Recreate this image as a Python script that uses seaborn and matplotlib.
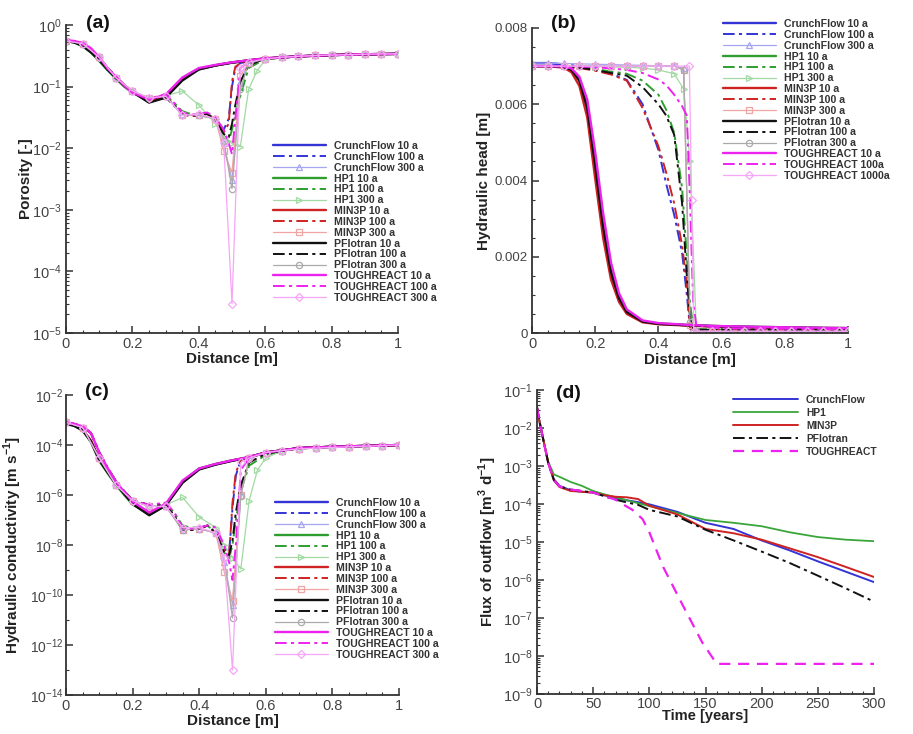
import numpy as np
import matplotlib
matplotlib.use('Agg')
import matplotlib.pyplot as plt
import seaborn as sns
from matplotlib.ticker import FixedLocator, FuncFormatter, MultipleLocator, LogLocator, NullFormatter

sns.set_theme(style='ticks')
plt.rcParams['font.family'] = ['Liberation Sans', 'DejaVu Sans']
plt.rcParams['mathtext.fontset'] = 'custom'
plt.rcParams['mathtext.rm'] = 'Liberation Sans'
plt.rcParams['mathtext.bf'] = 'Liberation Sans:bold'

# ---------------- (a) porosity ----------------
xa10 = [0, 0.025, 0.05, 0.075, 0.1, 0.125, 0.15, 0.175, 0.2, 0.25, 0.3, 0.35, 0.4, 0.45, 0.5, 0.55, 0.6, 0.7, 0.8, 0.9, 1.0]
por_cf10 = [0.55, 0.53, 0.46, 0.37, 0.27, 0.19, 0.14, 0.105, 0.082, 0.056, 0.068, 0.13, 0.19, 0.22, 0.245, 0.265, 0.285, 0.31, 0.325, 0.335, 0.34]
por_hp1_10 = [0.55, 0.52, 0.45, 0.36, 0.26, 0.185, 0.135, 0.1, 0.08, 0.058, 0.072, 0.135, 0.195, 0.222, 0.247, 0.267, 0.287, 0.31, 0.325, 0.335, 0.34]
por_min3p10 = [0.55, 0.53, 0.47, 0.38, 0.28, 0.195, 0.142, 0.106, 0.083, 0.057, 0.07, 0.132, 0.192, 0.221, 0.246, 0.266, 0.286, 0.31, 0.325, 0.335, 0.34]
por_pf10 = [0.55, 0.52, 0.46, 0.36, 0.27, 0.19, 0.14, 0.105, 0.082, 0.055, 0.066, 0.125, 0.19, 0.22, 0.245, 0.265, 0.285, 0.31, 0.325, 0.335, 0.34]
por_tr10 = [0.57, 0.55, 0.51, 0.42, 0.3, 0.2, 0.145, 0.105, 0.08, 0.062, 0.074, 0.14, 0.2, 0.225, 0.248, 0.268, 0.288, 0.31, 0.325, 0.335, 0.34]

xa100 = [0, 0.025, 0.05, 0.075, 0.1, 0.125, 0.15, 0.175, 0.2, 0.25, 0.3, 0.325, 0.35, 0.375, 0.4, 0.425, 0.45, 0.475, 0.49, 0.5, 0.51, 0.525, 0.55, 0.6, 0.7, 0.8, 0.9, 1.0]
por_cf100 = [0.56, 0.54, 0.48, 0.4, 0.29, 0.2, 0.145, 0.105, 0.08, 0.064, 0.068, 0.05, 0.036, 0.034, 0.034, 0.036, 0.03, 0.02, 0.03, 0.1, 0.2, 0.24, 0.26, 0.285, 0.31, 0.325, 0.335, 0.34]
por_hp1_100 = [0.56, 0.54, 0.48, 0.4, 0.29, 0.2, 0.145, 0.105, 0.08, 0.064, 0.07, 0.055, 0.04, 0.036, 0.035, 0.036, 0.028, 0.015, 0.013, 0.02, 0.035, 0.07, 0.2, 0.28, 0.31, 0.325, 0.335, 0.34]
por_min3p100 = [0.56, 0.54, 0.48, 0.4, 0.29, 0.2, 0.145, 0.105, 0.08, 0.064, 0.068, 0.05, 0.035, 0.033, 0.034, 0.036, 0.03, 0.018, 0.025, 0.12, 0.21, 0.24, 0.26, 0.285, 0.31, 0.325, 0.335, 0.34]
por_pf100 = [0.56, 0.54, 0.48, 0.4, 0.29, 0.2, 0.145, 0.105, 0.08, 0.064, 0.068, 0.05, 0.036, 0.034, 0.034, 0.036, 0.029, 0.017, 0.015, 0.025, 0.05, 0.12, 0.22, 0.285, 0.31, 0.325, 0.335, 0.34]
por_tr100 = [0.56, 0.54, 0.48, 0.4, 0.29, 0.2, 0.145, 0.105, 0.08, 0.064, 0.075, 0.055, 0.038, 0.035, 0.036, 0.038, 0.032, 0.02, 0.012, 0.008, 0.03, 0.2, 0.25, 0.285, 0.31, 0.325, 0.335, 0.34]

xa300 = [0, 0.05, 0.1, 0.15, 0.2, 0.25, 0.3, 0.35, 0.4, 0.45, 0.475, 0.5, 0.525, 0.55, 0.6, 0.65, 0.7, 0.75, 0.8, 0.85, 0.9, 0.95, 1.0]
xa_hp300 = [0, 0.05, 0.1, 0.15, 0.2, 0.25, 0.3, 0.35, 0.4, 0.45, 0.475, 0.5, 0.525, 0.55, 0.575, 0.6, 0.65, 0.7, 0.75, 0.8, 0.85, 0.9, 0.95, 1.0]
por_cf300 = [0.55, 0.5, 0.3, 0.14, 0.085, 0.065, 0.07, 0.036, 0.034, 0.03, 0.012, 0.003, 0.12, 0.24, 0.28, 0.3, 0.31, 0.32, 0.325, 0.33, 0.335, 0.34, 0.34]
por_hp1_300 = [0.55, 0.5, 0.3, 0.14, 0.085, 0.065, 0.07, 0.085, 0.05, 0.025, 0.015, 0.012, 0.0105, 0.09, 0.18, 0.27, 0.3, 0.31, 0.32, 0.325, 0.33, 0.335, 0.34, 0.34]
por_min3p300 = [0.55, 0.5, 0.3, 0.14, 0.085, 0.065, 0.07, 0.035, 0.034, 0.03, 0.009, 0.004, 0.15, 0.24, 0.28, 0.3, 0.31, 0.32, 0.325, 0.33, 0.335, 0.34, 0.34]
por_pf300 = [0.55, 0.5, 0.3, 0.14, 0.085, 0.065, 0.07, 0.035, 0.034, 0.03, 0.013, 0.0022, 0.09, 0.24, 0.28, 0.3, 0.31, 0.32, 0.325, 0.33, 0.335, 0.34, 0.34]
por_tr300 = [0.55, 0.5, 0.3, 0.14, 0.085, 0.065, 0.07, 0.034, 0.036, 0.03, 0.012, 3e-5, 0.2, 0.25, 0.28, 0.3, 0.31, 0.32, 0.325, 0.33, 0.335, 0.34, 0.34]

# ---------------- (b) hydraulic head ----------------
xb10 = [0, 0.05, 0.1, 0.125, 0.15, 0.175, 0.2, 0.225, 0.25, 0.275, 0.3, 0.35, 0.4, 0.5, 0.6, 0.8, 1.0]
h_cf10 = [0.00708, 0.00708, 0.00704, 0.00693, 0.00663, 0.00588, 0.00435, 0.00275, 0.00157, 0.00090, 0.00054, 0.00030, 0.00024, 0.00020, 0.00017, 0.00014, 0.00012]
h_hp1_10 = [0.00700, 0.00700, 0.00698, 0.00692, 0.00668, 0.00602, 0.00460, 0.00300, 0.00172, 0.00098, 0.00058, 0.00031, 0.00025, 0.00021, 0.00018, 0.00015, 0.00013]
h_min3p10 = [0.00700, 0.00700, 0.00696, 0.00684, 0.00648, 0.00565, 0.00405, 0.00250, 0.00140, 0.00082, 0.00050, 0.00028, 0.00023, 0.00019, 0.00016, 0.00013, 0.00011]
h_pf10 = [0.00700, 0.00700, 0.00698, 0.00690, 0.00662, 0.00590, 0.00440, 0.00280, 0.00160, 0.00092, 0.00055, 0.00030, 0.00024, 0.00020, 0.00017, 0.00014, 0.00012]
h_tr10 = [0.00700, 0.00700, 0.00699, 0.00694, 0.00672, 0.00612, 0.00475, 0.00315, 0.00185, 0.00105, 0.00062, 0.00033, 0.00026, 0.00021, 0.00018, 0.00015, 0.00013]

xb100 = [0, 0.05, 0.1, 0.15, 0.2, 0.25, 0.3, 0.35, 0.4, 0.425, 0.45, 0.475, 0.49, 0.5, 0.51, 0.52, 0.6, 0.8, 1.0]
h_cf100 = [0.00708, 0.00708, 0.00705, 0.00700, 0.00690, 0.00680, 0.00664, 0.00600, 0.00480, 0.00390, 0.00310, 0.00210, 0.00100, 0.00012, 0.00009, 0.00008, 0.00008, 0.00007, 0.00007]
h_hp1_100 = [0.00700, 0.00700, 0.00699, 0.00697, 0.00692, 0.00686, 0.00680, 0.00662, 0.00625, 0.00585, 0.00525, 0.00380, 0.00200, 0.00080, 0.00015, 0.00010, 0.00009, 0.00008, 0.00008]
h_min3p100 = [0.00700, 0.00700, 0.00698, 0.00695, 0.00688, 0.00678, 0.00662, 0.00590, 0.00490, 0.00420, 0.00340, 0.00230, 0.00130, 0.00012, 0.00009, 0.00008, 0.00008, 0.00007, 0.00007]
h_pf100 = [0.00700, 0.00700, 0.00698, 0.00696, 0.00690, 0.00682, 0.00675, 0.00645, 0.00600, 0.00570, 0.00520, 0.00340, 0.00150, 0.00040, 0.00010, 0.00009, 0.00008, 0.00008, 0.00007]
h_tr100 = [0.00700, 0.00700, 0.00700, 0.00699, 0.00697, 0.00694, 0.00690, 0.00682, 0.00665, 0.00650, 0.00625, 0.00595, 0.00570, 0.00350, 0.00080, 0.00020, 0.00012, 0.00011, 0.00010]

xb300 = [0, 0.05, 0.1, 0.15, 0.2, 0.25, 0.3, 0.35, 0.4, 0.45, 0.48, 0.5, 0.52, 0.57, 0.62, 0.67, 0.72, 0.77, 0.82, 0.87, 0.92, 0.97, 1.0]
xb_tr1000 = [0, 0.05, 0.1, 0.15, 0.2, 0.25, 0.3, 0.35, 0.4, 0.45, 0.498, 0.505, 0.512, 0.57, 0.62, 0.67, 0.72, 0.77, 0.82, 0.87, 0.92, 0.97, 1.0]
h_cf300 = [0.00708, 0.00708, 0.00707, 0.00706, 0.00705, 0.00704, 0.00703, 0.00702, 0.00701, 0.00700, 0.00695, 0.00030, 0.00005, 0.00005, 0.00005, 0.00005, 0.00005, 0.00005, 0.00005, 0.00005, 0.00005, 0.00005, 0.00005]
h_hp1_300 = [0.00700, 0.00700, 0.00700, 0.00700, 0.00699, 0.00698, 0.00697, 0.00695, 0.00690, 0.00680, 0.00640, 0.00450, 0.00008, 0.00005, 0.00005, 0.00005, 0.00005, 0.00005, 0.00005, 0.00005, 0.00005, 0.00005, 0.00005]
h_min3p300 = [0.00700, 0.00700, 0.00700, 0.00700, 0.00700, 0.00700, 0.00700, 0.00700, 0.00700, 0.00700, 0.00690, 0.00020, 0.00005, 0.00005, 0.00005, 0.00005, 0.00005, 0.00005, 0.00005, 0.00005, 0.00005, 0.00005, 0.00005]
h_pf300 = [0.00700, 0.00700, 0.00700, 0.00700, 0.00700, 0.00700, 0.00700, 0.00700, 0.00700, 0.00700, 0.00690, 0.00030, 0.00004, 0.00004, 0.00004, 0.00004, 0.00004, 0.00004, 0.00004, 0.00004, 0.00004, 0.00004, 0.00004]
h_tr1000 = [0.00700, 0.00700, 0.00700, 0.00700, 0.00700, 0.00700, 0.00700, 0.00700, 0.00700, 0.00700, 0.00700, 0.00350, 0.00005, 0.00005, 0.00005, 0.00005, 0.00005, 0.00005, 0.00005, 0.00005, 0.00005, 0.00005, 0.00005]

# ---------------- (c) hydraulic conductivity ----------------
xc10 = [0, 0.025, 0.05, 0.075, 0.1, 0.125, 0.15, 0.175, 0.2, 0.25, 0.3, 0.35, 0.4, 0.45, 0.5, 0.55, 0.6, 0.7, 0.8, 0.9, 1.0]
k_cf10 = [7.5e-4, 6e-4, 4e-4, 1.4e-4, 2.5e-5, 8e-6, 2.8e-6, 1.1e-6, 4.5e-7, 1.6e-7, 4e-7, 3.2e-6, 1.1e-5, 1.7e-5, 2.4e-5, 3.2e-5, 5e-5, 7.5e-5, 8.5e-5, 9.2e-5, 1e-4]
k_hp1_10 = [7.5e-4, 6e-4, 3.8e-4, 1.3e-4, 2.3e-5, 7.5e-6, 2.6e-6, 1e-6, 4.2e-7, 1.7e-7, 4.3e-7, 3.5e-6, 1.15e-5, 1.75e-5, 2.45e-5, 3.3e-5, 5e-5, 7.5e-5, 8.5e-5, 9.2e-5, 1e-4]
k_min3p10 = [7.5e-4, 6.2e-4, 4.2e-4, 1.5e-4, 2.7e-5, 8.5e-6, 3e-6, 1.2e-6, 4.8e-7, 1.8e-7, 4.1e-7, 3.3e-6, 1.1e-5, 1.7e-5, 2.4e-5, 3.2e-5, 5e-5, 7.5e-5, 8.5e-5, 9.2e-5, 1e-4]
k_pf10 = [7e-4, 5.8e-4, 3.8e-4, 1.4e-4, 2.5e-5, 8e-6, 2.7e-6, 1.1e-6, 4.4e-7, 1.55e-7, 3.8e-7, 3.1e-6, 1.05e-5, 1.65e-5, 2.35e-5, 3.2e-5, 5e-5, 7.5e-5, 8.5e-5, 9.2e-5, 1e-4]
k_tr10 = [8e-4, 7e-4, 5.5e-4, 3e-4, 5e-5, 1.2e-5, 3.5e-6, 1.3e-6, 5.5e-7, 2e-7, 4.5e-7, 3.8e-6, 1.15e-5, 1.75e-5, 2.45e-5, 3.3e-5, 5e-5, 7.5e-5, 8.5e-5, 9.2e-5, 1e-4]

xc100 = [0, 0.025, 0.05, 0.075, 0.1, 0.125, 0.15, 0.175, 0.2, 0.25, 0.3, 0.325, 0.35, 0.375, 0.4, 0.425, 0.45, 0.475, 0.49, 0.5, 0.51, 0.525, 0.55, 0.6, 0.7, 0.8, 0.9, 1.0]
k_cf100 = [7.5e-4, 7e-4, 5.5e-4, 3e-4, 5e-5, 1.2e-5, 3.5e-6, 1.4e-6, 6e-7, 4e-7, 4e-7, 1.5e-7, 4e-8, 4e-8, 4.5e-8, 6e-8, 3e-8, 7e-9, 5e-9, 3e-7, 6e-6, 2.5e-5, 3.5e-5, 5e-5, 7.5e-5, 8.5e-5, 9.2e-5, 1e-4]
k_hp1_100 = [7.5e-4, 7e-4, 5.5e-4, 3e-4, 5e-5, 1.2e-5, 3.5e-6, 1.4e-6, 6e-7, 4e-7, 4.5e-7, 2e-7, 6e-8, 5e-8, 5e-8, 6e-8, 3e-8, 5e-9, 3e-9, 1e-8, 1e-7, 1.5e-6, 1.5e-5, 4e-5, 7.5e-5, 8.5e-5, 9.2e-5, 1e-4]
k_min3p100 = [7.5e-4, 7e-4, 5.5e-4, 3e-4, 5e-5, 1.2e-5, 3.5e-6, 1.4e-6, 6e-7, 4e-7, 4e-7, 1.5e-7, 4e-8, 4e-8, 4.5e-8, 6e-8, 3e-8, 6e-9, 4e-9, 5e-7, 8e-6, 2.5e-5, 3.5e-5, 5e-5, 7.5e-5, 8.5e-5, 9.2e-5, 1e-4]
k_pf100 = [7e-4, 6.5e-4, 5.5e-4, 3e-4, 5e-5, 1.2e-5, 3.5e-6, 1.4e-6, 6e-7, 4e-7, 4e-7, 1.5e-7, 4e-8, 4e-8, 4.5e-8, 6e-8, 3e-8, 5e-9, 4e-9, 1.5e-8, 2e-7, 2.5e-6, 2e-5, 4.5e-5, 7.5e-5, 8.5e-5, 9.2e-5, 1e-4]
k_tr100 = [8e-4, 7e-4, 5.5e-4, 3e-4, 5e-5, 1.2e-5, 3.5e-6, 1.4e-6, 6e-7, 4e-7, 5e-7, 2e-7, 5e-8, 4.5e-8, 5e-8, 6e-8, 5e-8, 1e-8, 2e-9, 4e-10, 1e-8, 1e-5, 3e-5, 5e-5, 7.5e-5, 8.5e-5, 9.2e-5, 1e-4]

xc300 = [0, 0.05, 0.1, 0.15, 0.2, 0.25, 0.3, 0.35, 0.4, 0.45, 0.475, 0.5, 0.525, 0.55, 0.6, 0.65, 0.7, 0.75, 0.8, 0.85, 0.9, 0.95, 1.0]
xc_hp300 = [0, 0.05, 0.1, 0.15, 0.2, 0.25, 0.3, 0.35, 0.4, 0.45, 0.475, 0.5, 0.525, 0.55, 0.575, 0.6, 0.65, 0.7, 0.75, 0.8, 0.85, 0.9, 0.95, 1.0]
k_cf300 = [8e-4, 5e-4, 3e-5, 2.5e-6, 6e-7, 3.5e-7, 3.5e-7, 4e-8, 4.5e-8, 3e-8, 2e-9, 4e-11, 1e-6, 3e-5, 5e-5, 6e-5, 7e-5, 7.5e-5, 8e-5, 8.5e-5, 9e-5, 9.5e-5, 1e-4]
k_hp1_300 = [8e-4, 5e-4, 3e-5, 2.5e-6, 6e-7, 3.5e-7, 4e-7, 8e-7, 1.3e-7, 5e-8, 1e-8, 3e-9, 1.1e-9, 6e-7, 1e-5, 3e-5, 6e-5, 7e-5, 7.5e-5, 8e-5, 8.5e-5, 9e-5, 9.5e-5, 1e-4]
k_min3p300 = [8e-4, 5e-4, 3e-5, 2.5e-6, 6e-7, 3.5e-7, 3.5e-7, 4e-8, 4.5e-8, 3e-8, 8.5e-10, 6e-11, 1e-6, 3e-5, 5e-5, 6e-5, 7e-5, 7.5e-5, 8e-5, 8.5e-5, 9e-5, 9.5e-5, 1e-4]
k_pf300 = [8e-4, 5e-4, 3e-5, 2.5e-6, 6e-7, 3.5e-7, 3.5e-7, 4e-8, 4.5e-8, 3e-8, 3e-9, 1.2e-11, 9e-7, 3e-5, 5e-5, 6e-5, 7e-5, 7.5e-5, 8e-5, 8.5e-5, 9e-5, 9.5e-5, 1e-4]
k_tr300 = [8e-4, 5e-4, 3e-5, 2.5e-6, 6e-7, 3.5e-7, 3.5e-7, 5e-8, 5e-8, 3e-8, 3e-9, 1e-13, 2e-5, 3e-5, 5e-5, 6e-5, 7e-5, 7.5e-5, 8e-5, 8.5e-5, 9e-5, 9.5e-5, 1e-4]

# ---------------- (d) flux of outflow ----------------
td = [0, 2, 5, 10, 15, 20, 30, 40, 50, 60, 70, 80, 90, 100, 125, 150, 175, 200, 225, 250, 275, 300]
f_cf = [3.5e-2, 1.6e-2, 6e-3, 1.2e-3, 4.5e-4, 3e-4, 2.3e-4, 2.1e-4, 2e-4, 1.7e-4, 1.45e-4, 1.25e-4, 1.12e-4, 9.8e-5, 6.2e-5, 3.2e-5, 2.2e-5, 1.1e-5, 6e-6, 3.1e-6, 1.65e-6, 8.8e-7]
f_hp1 = [3.5e-2, 1.6e-2, 6e-3, 1.3e-3, 6e-4, 5.2e-4, 3.8e-4, 3e-4, 2.2e-4, 1.8e-4, 1.5e-4, 1.25e-4, 1.05e-4, 8.8e-5, 5.8e-5, 3.8e-5, 3.2e-5, 2.6e-5, 1.8e-5, 1.35e-5, 1.15e-5, 1.05e-5]
f_min3p = [3.5e-2, 1.6e-2, 6e-3, 1.2e-3, 4.2e-4, 2.8e-4, 2.2e-4, 2.1e-4, 2e-4, 1.7e-4, 1.55e-4, 1.5e-4, 1.35e-4, 9e-5, 5.3e-5, 2.2e-5, 1.7e-5, 1.15e-5, 6.8e-6, 4e-6, 2.2e-6, 1.2e-6]
f_pf = [3.5e-2, 1.6e-2, 6e-3, 1.2e-3, 4.3e-4, 2.9e-4, 2.4e-4, 2.2e-4, 2e-4, 1.6e-4, 1.3e-4, 1.1e-4, 9.5e-5, 7e-5, 4.7e-5, 2.1e-5, 1.1e-5, 5.6e-6, 2.8e-6, 1.3e-6, 6e-7, 2.7e-7]
td_tr = [0, 2, 5, 10, 15, 20, 30, 40, 50, 60, 70, 76, 85, 94, 100, 112, 130, 147, 160, 200, 250, 300]
f_tr = [3.5e-2, 1.6e-2, 6e-3, 1.2e-3, 4.3e-4, 2.9e-4, 2.4e-4, 2.2e-4, 2e-4, 1.6e-4, 1.3e-4, 1e-4, 7e-5, 4e-5, 1.8e-5, 2.3e-6, 2.1e-7, 2.3e-8, 6.2e-9, 6.2e-9, 6.2e-9, 6.2e-9]

codes = ['CrunchFlow', 'HP1', 'MIN3P', 'PFlotran', 'TOUGHREACT']
full_col = {'CrunchFlow': '#3434d6', 'HP1': '#2e9e2e', 'MIN3P': '#cf2222',
            'PFlotran': '#111111', 'TOUGHREACT': '#ee22ee'}
light_col = {'CrunchFlow': '#a6a6f0', 'HP1': '#a3d9a3', 'MIN3P': '#f0a4a4',
             'PFlotran': '#aaaaaa', 'TOUGHREACT': '#f6a6f6'}
mark = {'CrunchFlow': '^', 'HP1': '>', 'MIN3P': 's', 'PFlotran': 'o', 'TOUGHREACT': 'D'}
DASHDOT = (0, (6, 2.2, 1.6, 2.2))


def draw(ax, x, y, code, kind, label):
    if kind == 'solid':
        sns.lineplot(x=x, y=y, ax=ax, color=full_col[code], lw=1.7, label=label,
                     estimator=None, sort=False)
    elif kind == 'dashdot':
        sns.lineplot(x=x, y=y, ax=ax, color=full_col[code], lw=1.4, ls=DASHDOT,
                     label=label, estimator=None, sort=False)
    else:
        ms = 4.5 if mark[code] != 'D' else 4
        sns.lineplot(x=x, y=y, ax=ax, color=light_col[code], lw=0.9, marker=mark[code],
                     ms=ms, mfc='none', mec=light_col[code], mew=0.9,
                     label=label, estimator=None, sort=False)


def series_panel(ax, s10, s100, s300, x10, x100, x300s, labels300):
    for i, c in enumerate(codes):
        draw(ax, x10, s10[i], c, 'solid', f'{c} 10 a')
        draw(ax, x100, s100[i], c, 'dashdot', labels300[i][0])
        draw(ax, x300s[i], s300[i], c, 'light', labels300[i][1])


def style_axes(ax):
    sns.despine(ax=ax)
    for s in ['left', 'bottom']:
        ax.spines[s].set_color('#333333')
        ax.spines[s].set_linewidth(1.3)
    ax.tick_params(which='both', direction='in', colors='#333333', labelcolor='#444444',
                   labelsize=10.5, pad=3)
    ax.tick_params(which='major', length=5, width=1.1)
    ax.tick_params(which='minor', length=2.5, width=0.8)


def legend(ax, fig, x, y, spacing=0.08, hl=5.0, size=7.6):
    leg = ax.legend(loc='upper left', bbox_to_anchor=(x / 913, 1 - y / 734),
                    bbox_transform=fig.transFigure, frameon=False,
                    prop={'weight': 'bold', 'size': size}, labelspacing=spacing,
                    handlelength=hl, handletextpad=0.8, borderpad=0, borderaxespad=0,
                    numpoints=1)
    for t in leg.get_texts():
        t.set_color('#333333')
    return leg


def logfmt(v, _):
    return r'$\mathregular{10^{%d}}$' % int(round(np.log10(v)))


def numfmt(v, _):
    return '%g' % round(v, 6)


fig = plt.figure(figsize=(9.13, 7.34), dpi=100)

ax_a = fig.add_axes([66 / 913, 1 - 333 / 734, 332 / 913, 308 / 734])
ax_b = fig.add_axes([532 / 913, 1 - 333 / 734, 316 / 913, 305 / 734])
ax_c = fig.add_axes([66 / 913, 1 - 695 / 734, 333 / 913, 300 / 734])
ax_d = fig.add_axes([537 / 913, 1 - 694 / 734, 337 / 913, 304 / 734])

lab_std = [(f'{c} 100 a', f'{c} 300 a') for c in codes]
lab_b = lab_std[:4] + [('TOUGHREACT 100a', 'TOUGHREACT 1000a')]

# (a)
series_panel(ax_a,
             [por_cf10, por_hp1_10, por_min3p10, por_pf10, por_tr10],
             [por_cf100, por_hp1_100, por_min3p100, por_pf100, por_tr100],
             [por_cf300, por_hp1_300, por_min3p300, por_pf300, por_tr300],
             xa10, xa100, [xa300, xa_hp300, xa300, xa300, xa300], lab_std)
ax_a.set_yscale('log')
ax_a.set_xlim(0, 1)
ax_a.set_ylim(1e-5, 1)

# (b)
series_panel(ax_b,
             [h_cf10, h_hp1_10, h_min3p10, h_pf10, h_tr10],
             [h_cf100, h_hp1_100, h_min3p100, h_pf100, h_tr100],
             [h_cf300, h_hp1_300, h_min3p300, h_pf300, h_tr1000],
             xb10, xb100, [xb300, xb300, xb300, xb300, xb_tr1000], lab_b)
ax_b.set_xlim(0, 1)
ax_b.set_ylim(0, 0.008)

# (c)
series_panel(ax_c,
             [k_cf10, k_hp1_10, k_min3p10, k_pf10, k_tr10],
             [k_cf100, k_hp1_100, k_min3p100, k_pf100, k_tr100],
             [k_cf300, k_hp1_300, k_min3p300, k_pf300, k_tr300],
             xc10, xc100, [xc300, xc_hp300, xc300, xc300, xc300], lab_std)
ax_c.set_yscale('log')
ax_c.set_xlim(0, 1)
ax_c.set_ylim(1e-14, 1e-2)

# (d)
sns.lineplot(x=td, y=f_cf, ax=ax_d, color=full_col['CrunchFlow'], lw=1.4, label='CrunchFlow', estimator=None)
sns.lineplot(x=td, y=f_hp1, ax=ax_d, color='#3aa63a', lw=1.3, label='HP1', estimator=None)
sns.lineplot(x=td, y=f_min3p, ax=ax_d, color=full_col['MIN3P'], lw=1.4, label='MIN3P', estimator=None)
sns.lineplot(x=td, y=f_pf, ax=ax_d, color='#111111', lw=1.4, ls=DASHDOT, label='PFlotran', estimator=None)
sns.lineplot(x=td_tr, y=f_tr, ax=ax_d, color=full_col['TOUGHREACT'], lw=1.6, ls=(0, (5, 3.5)),
             label='TOUGHREACT', estimator=None)
ax_d.set_yscale('log')
ax_d.set_xlim(0, 300)
ax_d.set_ylim(1e-9, 1e-1)

for ax in (ax_a, ax_b, ax_c, ax_d):
    style_axes(ax)

for ax in (ax_a, ax_b, ax_c):
    ax.xaxis.set_major_locator(MultipleLocator(0.2))
    ax.xaxis.set_minor_locator(MultipleLocator(0.05))
    ax.xaxis.set_major_formatter(FuncFormatter(numfmt))

ax_a.yaxis.set_major_locator(LogLocator(base=10, numticks=10))
ax_a.yaxis.set_minor_locator(LogLocator(base=10, subs=np.arange(2, 10), numticks=10))
ax_a.yaxis.set_major_formatter(FuncFormatter(logfmt))
ax_a.yaxis.set_minor_formatter(NullFormatter())

ax_b.yaxis.set_major_locator(MultipleLocator(0.002))
ax_b.yaxis.set_minor_locator(MultipleLocator(0.0005))
ax_b.yaxis.set_major_formatter(FuncFormatter(numfmt))
ax_b.tick_params(axis='y', labelsize=9.5)

ax_c.yaxis.set_major_locator(FixedLocator([1e-14, 1e-12, 1e-10, 1e-8, 1e-6, 1e-4, 1e-2]))
ax_c.yaxis.set_minor_locator(FixedLocator([1e-13, 1e-11, 1e-9, 1e-7, 1e-5, 1e-3]))
ax_c.yaxis.set_major_formatter(FuncFormatter(logfmt))
ax_c.yaxis.set_minor_formatter(NullFormatter())
ax_c.tick_params(axis='y', labelsize=10, pad=2)

ax_d.xaxis.set_major_locator(MultipleLocator(50))
ax_d.xaxis.set_minor_locator(MultipleLocator(10))
ax_d.yaxis.set_major_locator(LogLocator(base=10, numticks=12))
ax_d.yaxis.set_minor_locator(LogLocator(base=10, subs=np.arange(2, 10), numticks=12))
ax_d.yaxis.set_major_formatter(FuncFormatter(logfmt))
ax_d.yaxis.set_minor_formatter(NullFormatter())
ax_d.tick_params(axis='x', pad=2)

lab_kw = dict(fontsize=11, fontweight='bold', color='#222222')
ax_a.set_xlabel('Distance [m]', **lab_kw)
ax_a.set_ylabel('Porosity [-]', **lab_kw)
ax_b.set_xlabel('Distance [m]', **lab_kw)
ax_b.set_ylabel('Hydraulic head [m]', **lab_kw)
ax_c.set_xlabel('Distance [m]', **lab_kw)
ax_c.set_ylabel(r'Hydraulic conductivity [m s$^{\mathbf{-1}}$]', **lab_kw)
ax_d.set_xlabel('Time [years]', fontsize=10.5, fontweight='bold', color='#222222')
ax_d.set_ylabel(r'Flux of outflow [m$^{\mathbf{3}}$ d$^{\mathbf{-1}}$]', **lab_kw)

ax_a.xaxis.set_label_coords(0.5, -0.062)
ax_a.yaxis.set_label_coords(-0.10, 0.5)
ax_b.xaxis.set_label_coords(0.5, -0.064)
ax_b.yaxis.set_label_coords(-0.13, 0.5)
ax_c.xaxis.set_label_coords(0.5, -0.062)
ax_c.yaxis.set_label_coords(-0.125, 0.5)
ax_d.xaxis.set_label_coords(0.5, -0.05)
ax_d.yaxis.set_label_coords(-0.113, 0.5)

legend(ax_a, fig, 273, 141)
legend(ax_b, fig, 723, 19)
legend(ax_c, fig, 275, 498)
legend(ax_d, fig, 733, 395, spacing=0.28, hl=6.3, size=7.4)

pk = dict(fontsize=14, fontweight='bold', color='#111111', va='center', ha='left')
fig.text(86 / 913, 1 - 23 / 734, '(a)', **pk)
fig.text(551 / 913, 1 - 24 / 734, '(b)', **pk)
fig.text(85 / 913, 1 - 391 / 734, '(c)', **pk)
fig.text(556 / 913, 1 - 393 / 734, '(d)', **pk)

fig.savefig('out.png', dpi=100)
